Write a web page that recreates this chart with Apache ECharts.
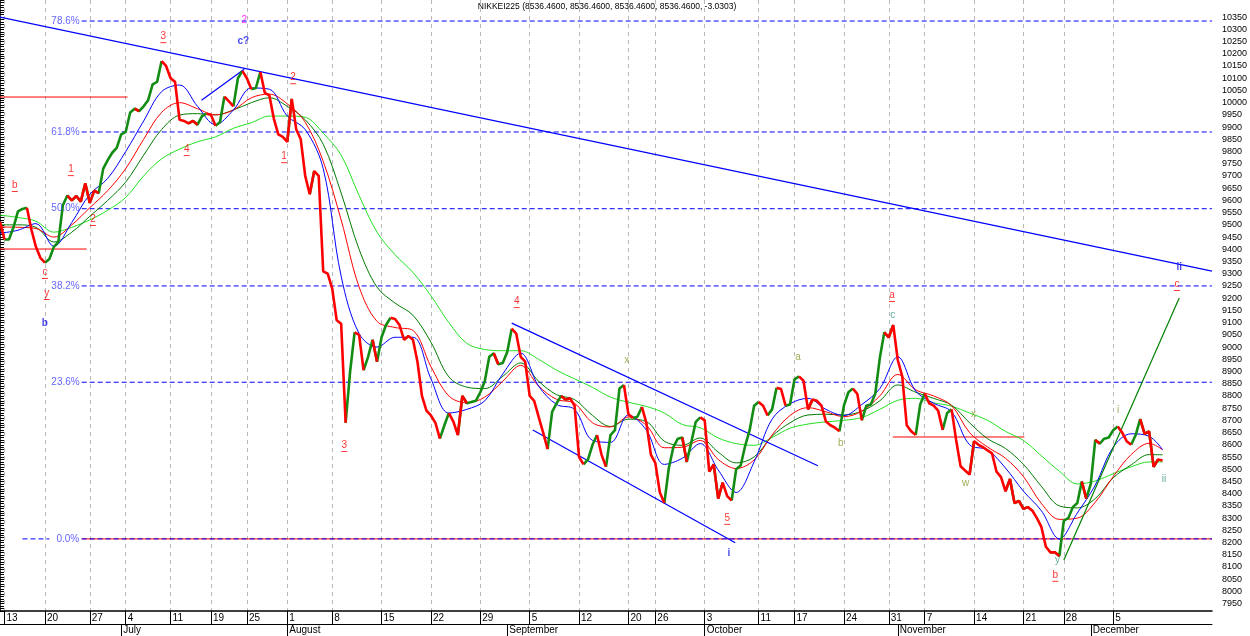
<!DOCTYPE html>
<html>
<head>
<meta charset="utf-8">
<title>NIKKEI225</title>
<script src="https://cdn.jsdelivr.net/npm/echarts@6/dist/echarts.min.js"></script>
<style>
html, body { margin: 0; padding: 0; background: #fff; }
#nikkei { width: 1250px; height: 636px; }
</style>
</head>
<body>
<div id="nikkei"></div>
<script>
// x axis = bar slots of the source chart (about two per trading day)
var slotCount = 271;

// close price, one value per slot (slot 0 = 10 June)
var price = [
    9512, 9440, 9440, 9490, 9555, 9565, 9570, 9480, 9410, 9365,
    9345, 9360, 9410, 9430, 9580, 9620, 9600, 9618, 9595, 9670,
    9590, 9640, 9630, 9730, 9765, 9795, 9815, 9870, 9880, 9960,
    9975, 9965, 9985, 10010, 10075, 10085, 10170, 10150, 10100, 10085,
    9930, 9925, 9915, 9925, 9910, 9945, 9955, 9950, 9905, 9920,
    10025, 10005, 9985, 10100, 10130, 10100, 10055, 10060, 10125, 10040,
    10030, 9935, 9870, 9860, 9840, 10015, 9890, 9850, 9700, 9625,
    9720, 9700, 9310, 9300, 9240, 9110, 9095, 8690, 8900, 9060,
    9050, 8905, 8960, 9030, 8940, 9040, 9090, 9120, 9115, 9090,
    9030, 9045, 9030, 8940, 8800, 8740, 8720, 8690, 8625, 8680,
    8730, 8695, 8640, 8800, 8770, 8775, 8780, 8815, 8860, 8960,
    8975, 8930, 8935, 8980, 9075, 9055, 8960, 8940, 8800, 8780,
    8714, 8650, 8582, 8735, 8770, 8800, 8785, 8790, 8760, 8550,
    8520, 8540, 8600, 8640, 8560, 8510, 8640, 8660, 8830, 8845,
    8725, 8710, 8715, 8755, 8690, 8560, 8525, 8405, 8362, 8505,
    8590, 8625, 8630, 8530, 8610, 8694, 8712, 8700, 8490, 8520,
    8380, 8445, 8390, 8372, 8500, 8515, 8595, 8660, 8760, 8775,
    8760, 8720, 8745, 8833, 8828, 8760, 8765, 8868, 8880, 8862,
    8745, 8785, 8780, 8760, 8695, 8680, 8670, 8655, 8760, 8815,
    8830, 8808, 8700, 8760, 8765, 8810, 8955, 9060, 9040, 9090,
    8947, 8880, 8680, 8655, 8640, 8765, 8810, 8770, 8760, 8740,
    8661, 8730, 8745, 8620, 8512, 8495, 8478, 8615, 8600, 8590,
    8577, 8565, 8490, 8468, 8410, 8460, 8362, 8370, 8338, 8345,
    8330, 8300, 8264, 8183, 8160, 8160, 8145, 8290, 8300, 8345,
    8362, 8450, 8380, 8440, 8620, 8605, 8625, 8630, 8660, 8675,
    8650, 8615, 8600, 8640, 8705, 8645, 8655, 8510, 8540, 8536
];

// moving averages, read every 4th slot (last value at slot 259)
var maBlue = [
    9466, 9478, 9505, 9412, 9510, 9625, 9690, 9800, 9925, 10045,
    10072, 9985, 9910, 9970, 10060, 10055, 9945, 9890, 9730, 9290,
    9055, 9000, 9040, 9040, 8870, 8730, 8745, 8780, 8890, 8975,
    8840, 8765, 8745, 8618, 8610, 8722, 8660, 8520, 8545, 8605,
    8497, 8405, 8530, 8705, 8768, 8790, 8745, 8720, 8765, 8830,
    8960, 8820, 8770, 8735, 8600, 8579, 8505, 8410, 8330, 8215,
    8321, 8435, 8590, 8645, 8635, 8580
];
var maRed = [
    9491, 9490, 9485, 9450, 9500, 9570, 9640, 9730, 9850, 9960,
    10000, 9975, 9950, 9970, 10020, 10035, 9995, 9920, 9760, 9520,
    9246, 9105, 9080, 9068, 8920, 8800, 8772, 8795, 8860, 8925,
    8840, 8786, 8770, 8690, 8673, 8714, 8680, 8588, 8590, 8618,
    8540, 8503, 8538, 8640, 8720, 8752, 8735, 8715, 8738, 8800,
    8888, 8825, 8800, 8760, 8650, 8591, 8545, 8470, 8360, 8295,
    8300, 8365, 8470, 8560, 8606, 8580
];
var maDarkGreen = [
    9500, 9500, 9490, 9430, 9470, 9535, 9600, 9675, 9785, 9890,
    9949, 9955, 9950, 9970, 10000, 10020, 9985, 9930, 9830, 9630,
    9400, 9245, 9180, 9130, 9020, 8878, 8836, 8830, 8880, 8935,
    8860, 8805, 8785, 8720, 8675, 8705, 8695, 8615, 8598, 8628,
    8570, 8526, 8550, 8635, 8690, 8722, 8725, 8722, 8738, 8780,
    8845, 8815, 8790, 8762, 8690, 8625, 8585, 8520, 8430, 8350,
    8342, 8380, 8465, 8518, 8560, 8559
];
var maLightGreen = [
    9540, 9530, 9515, 9470, 9490, 9520, 9560, 9612, 9700, 9770,
    9810, 9840, 9860, 9895, 9918, 9945, 9945, 9940, 9875, 9785,
    9620, 9470, 9378, 9305, 9210, 9100, 9015, 8990, 8985, 8985,
    8950, 8905, 8870, 8835, 8795, 8774, 8757, 8730, 8683, 8670,
    8628, 8605, 8598, 8630, 8668, 8685, 8694, 8700, 8712, 8745,
    8782, 8790, 8772, 8758, 8730, 8700, 8655, 8618, 8555, 8492,
    8440, 8452, 8482, 8510, 8530, 8530
];

// week ticks (first trading day of each week) and month starts
var weekSlots = [1, 10, 20, 28, 38, 47, 55, 64, 74, 85, 96, 107, 118, 129, 140, 146, 157, 169, 177, 188, 198, 206, 217, 228, 237, 248];
var weekLabels = ['13', '20', '27', '4', '11', '19', '25', '1', '8', '15', '22', '29', '5', '12', '20', '26', '3', '11', '17', '24', '31', '7', '14', '21', '28', '5'];
var monthSlots = [27, 64, 113, 157, 200, 243];
var monthLabels = ['July', 'August', 'September', 'October', 'November', 'December'];

// price scale labels stop at the last full level shown
var topLabel = 10350;

// fibonacci retracement levels
var fibLevels = [10334, 9880, 9566, 9250, 8856, 8215];
var fibLabels = ['78.6%', '61.8%', '50.0%', '38.2%', '23.6%', '0.0%'];

// drawn lines: [slot0, value0, slot1, value1]
var blueLines = [[0, 10350, 270, 9311], [44.9, 10010, 54.4, 10137], [114, 9098, 182.2, 8514], [118.7, 8661, 163.8, 8199]];
var redLines = [[0, 10023, 28.4, 10023], [0, 9401, 19.3, 9401], [198.9, 8632, 228.2, 8632], [18.2, 8215, 270, 8215]];
var greenLines = [[237, 8129, 262.7, 9201]];

// wave counts: [slot, value, text, degree]
var waveMarks = [
    [36.4, 10268, '3', 'minor'], [54.4, 10338, '2', 'primary'], [54.2, 10252, 'c?', 'inter'],
    [65.3, 10100, '2', 'minor'], [3.3, 9659, 'b', 'minor'], [15.8, 9724, '1', 'minor'],
    [41.6, 9806, '4', 'minor'], [63.3, 9777, '1', 'minor'], [20.7, 9520, '2', 'minor'],
    [10, 9303, 'c', 'minor'], [10.4, 9217, 'y', 'minor'], [10, 9098, 'b', 'inter'],
    [76.7, 8595, '3', 'minor'], [115.1, 9184, '4', 'minor'], [139.6, 8947, 'x', 'minute'],
    [162, 8297, '5', 'minor'], [162.4, 8158, 'i', 'inter'], [177.8, 8959, 'a', 'minute'],
    [187.3, 8608, 'b', 'minute'], [198.7, 9209, 'a', 'minor'], [198.9, 9131, 'c', 'minuette'],
    [216.9, 8726, 'x', 'minute'], [215.1, 8444, 'w', 'minute'], [235.6, 8129, 'y', 'minuette'],
    [235.1, 8064, 'b', 'minor'], [249.1, 8743, 'i', 'minute'], [259.3, 8460, 'ii', 'minuette'],
    [262.7, 9327, 'ii', 'inter'], [262.2, 9254, 'c', 'minor']
];

var FONT = 'Liberation Sans, Arial, sans-serif';

var waveStyle = {
    minor:    { color: '#ff0000', underline: true },
    primary:  { color: '#ff00ff' },
    inter:    { color: '#1414e6', bold: true },
    minute:   { color: '#8a9a2e' },
    minuette: { color: '#3a9a86' }
};

var slotNames = [];
for (var i = 0; i < slotCount; i++) slotNames.push(String(i));

var weekMap = {};
weekSlots.forEach(function (s, k) { weekMap[s] = weekLabels[k]; });
var monthMap = {};
monthSlots.forEach(function (s, k) { monthMap[s] = monthLabels[k]; });

function isWeek(idx) { return weekMap[idx] !== undefined; }
function isMonth(idx) { return monthMap[idx] !== undefined; }

// split the close into rising (green) and falling (red) pieces
function priceLeg(up) {
    var out = [];
    for (var i = 0; i < price.length; i++) {
        var before = i > 0 && ((price[i] >= price[i - 1]) === up);
        var after = i < price.length - 1 && ((price[i + 1] >= price[i]) === up);
        out.push([i, (before || after) ? price[i] : '-']);
    }
    return out;
}

function maSeries(values, color) {
    return {
        type: 'line',
        xAxisIndex: 2,
        data: values.map(function (v, k) { return [Math.min(k * 4, 259), v]; }),
        showSymbol: false,
        symbol: 'none',
        smooth: 0.35,
        silent: true,
        z: 3,
        lineStyle: { color: color, width: 1 }
    };
}

function lineSeries(list, color, width, dash, z) {
    return list.map(function (s) {
        return {
            type: 'line',
            xAxisIndex: 2,
            data: [[s[0], s[1]], [s[2], s[3]]],
            showSymbol: false,
            symbol: 'none',
            silent: true,
            z: z,
            lineStyle: { color: color, width: width, type: dash }
        };
    });
}

var fibSegments = fibLevels.map(function (lv) { return [18.2, lv, 270, lv]; });
fibSegments.push([5, fibLevels[5], 11, fibLevels[5]]);

var fibText = fibLevels.map(function (lv, k) {
    return {
        value: [k === 5 ? 15.1 : 14.6, lv],
        label: { formatter: fibLabels[k] }
    };
});

var waveData = waveMarks.map(function (m) {
    var st = waveStyle[m[3]];
    var fmt = st.underline ? '{t|' + m[2] + '}\n{u| }' : '{t|' + m[2] + '}';
    return {
        value: [m[0], m[1]],
        label: {
            formatter: fmt,
            rich: {
                t: { color: st.color, fontSize: 10, fontFamily: FONT, fontWeight: st.bold ? 'bold' : 'normal', lineHeight: 11 },
                u: { width: 6, height: 1, lineHeight: 2, fontSize: 1, backgroundColor: st.color }
            }
        }
    };
});

var nikkeiOption = {
    animation: false,
    backgroundColor: '#ffffff',
    title: {
        text: 'NIKKEI225 (8536.4600, 8536.4600, 8536.4600, 8536.4600, -3.0303)',
        left: 607,
        top: 2,
        textAlign: 'center',
        padding: 0,
        textStyle: { fontSize: 8.5, fontWeight: 'normal', color: '#000', fontFamily: FONT }
    },
    grid: { left: 0, right: 35, top: 0, bottom: 25, containLabel: false },
    xAxis: [
        {
            type: 'category',
            data: slotNames,
            boundaryGap: false,
            position: 'bottom',
            axisLine: { lineStyle: { color: '#000', width: 1.5 } },
            axisTick: { interval: isWeek, length: 13, lineStyle: { color: '#000' } },
            axisLabel: {
                interval: isWeek,
                formatter: function (v, idx) { return weekMap[idx] || ''; },
                align: 'left', margin: 2, padding: [0, 0, 0, 2],
                fontSize: 10, color: '#000', fontFamily: FONT
            },
            splitLine: { show: true, interval: isWeek, lineStyle: { color: '#b8b8b8', type: [4, 4] } }
        },
        {
            type: 'category',
            data: slotNames,
            boundaryGap: false,
            position: 'bottom',
            offset: 13,
            axisLine: { lineStyle: { color: '#000', width: 1 } },
            axisTick: { interval: isMonth, length: 12, lineStyle: { color: '#000' } },
            axisLabel: {
                interval: isMonth,
                formatter: function (v, idx) { return monthMap[idx] || ''; },
                align: 'left', margin: 1, padding: [0, 0, 0, 2],
                fontSize: 10, color: '#000', fontFamily: FONT
            },
            splitLine: { show: false }
        },
        { type: 'value', min: 0, max: slotCount - 1, show: false }
    ],
    yAxis: {
        type: 'value',
        position: 'right',
        min: 7920,
        max: 10420,
        interval: 10,
        axisLine: { show: true, lineStyle: { color: '#000', width: 1.5 } },
        axisTick: { show: true, length: 4, lineStyle: { color: '#000' } },
        axisLabel: {
            margin: 10,
            fontSize: 9,
            color: '#000',
            fontFamily: FONT,
            formatter: function (v) { return (v % 50 === 0 && v <= topLabel) ? String(v) : ''; }
        },
        splitLine: { show: false }
    },
    series: [].concat(
        lineSeries(redLines, '#ff0000', 1, 'solid', 1),
        lineSeries(fibSegments, '#0000ff', 1, [5, 3], 2),
        [
            maSeries(maLightGreen, '#22e022'),
            maSeries(maDarkGreen, '#007a00'),
            maSeries(maRed, '#ff0000'),
            maSeries(maBlue, '#0000ff')
        ],
        lineSeries(blueLines, '#0000ff', 1.2, 'solid', 4),
        lineSeries(greenLines, '#008000', 1.2, 'solid', 4),
        [
            {
                type: 'line', xAxisIndex: 2, data: priceLeg(true), connectNulls: false,
                showSymbol: false, symbol: 'none', silent: true, z: 5,
                lineStyle: { color: '#128c12', width: 2.6 }
            },
            {
                type: 'line', xAxisIndex: 2, data: priceLeg(false), connectNulls: false,
                showSymbol: false, symbol: 'none', silent: true, z: 5,
                lineStyle: { color: '#ff0000', width: 2.6 }
            },
            {
                type: 'scatter', xAxisIndex: 2, data: fibText, symbolSize: 1, silent: true, z: 6,
                itemStyle: { color: 'rgba(0,0,0,0)' },
                label: { show: true, position: 'inside', fontSize: 10, color: '#3c3cff', fontFamily: FONT }
            },
            {
                type: 'scatter', xAxisIndex: 2, data: waveData, symbolSize: 1, silent: true, z: 7,
                itemStyle: { color: 'rgba(0,0,0,0)' },
                label: { show: true, position: 'inside' }
            }
        ]
    )
};

function loadNikkeiChart(divId)
{
    var nikkeiChart = echarts.init(document.getElementById(divId));
    nikkeiChart.setOption(nikkeiOption, true);
    window.addEventListener("resize", function () {
        nikkeiChart.resize();
    });
}

loadNikkeiChart('nikkei');
</script>
</body>
</html>
